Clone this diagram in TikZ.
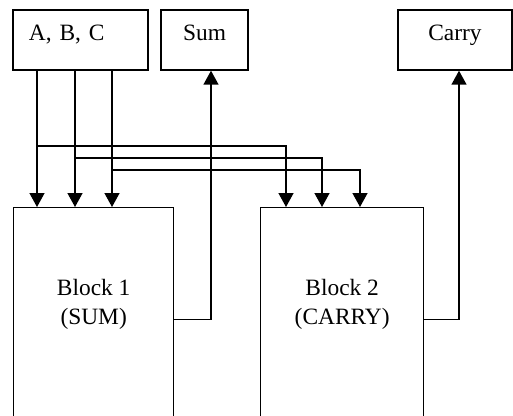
\documentclass[tikz,border=0pt]{standalone}
\usepackage{fontspec}
\setmainfont{Liberation Serif}
\usetikzlibrary{arrows.meta}

\begin{document}
\begin{tikzpicture}[x=1bp, y=-1bp, line width=1.4pt,
	font=\fontsize{23.5}{29}\selectfont,
	box/.style={draw, rectangle, inner sep=0pt, text height=12bp, text depth=12bp, minimum height=60bp},
	block/.style={draw, rectangle, anchor=north west, align=center, inner sep=0pt, minimum width=#1, minimum height=224bp, text height=40bp, text depth=31bp},
	flow/.style={-{Triangle[width=15pt, length=14pt]}}]
	\path[use as bounding box] (0,0) rectangle (513,415);
	\clip (0,0) rectangle (513,415);
	\node[box, align=left, text width=103bp, inner xsep=16bp] (abc) at (80.5,40) {A, B, C};
	\node[box, minimum width=87bp] (sum) at (204.5,40) {Sum};
	\node[box, minimum width=114bp] (carry) at (455,40) {Carry};
	\node[block=160bp] (block1) at (13,207) {Block 1\\(SUM)};
	\node[block=163bp] (block2) at (260,207) {Block 2\\(CARRY)};
	\foreach \n/\xa/\xb/\y in {a/37/286/146, b/75/322/158, c/112/360/170} {
		\coordinate (t\n) at (\xa,\y);
		\coordinate (i\n) at (\xb,0);
		\draw[flow] (abc.south -| t\n) -- (block1.north -| t\n);
		\draw[flow] (t\n) -| (block2.north -| i\n);
	}
	\draw[flow] (block1.east) -| ([xshift=6.5bp]sum.south);
	\draw[flow] (block2.east) -| ([xshift=4bp]carry.south);
\end{tikzpicture}
\end{document}
